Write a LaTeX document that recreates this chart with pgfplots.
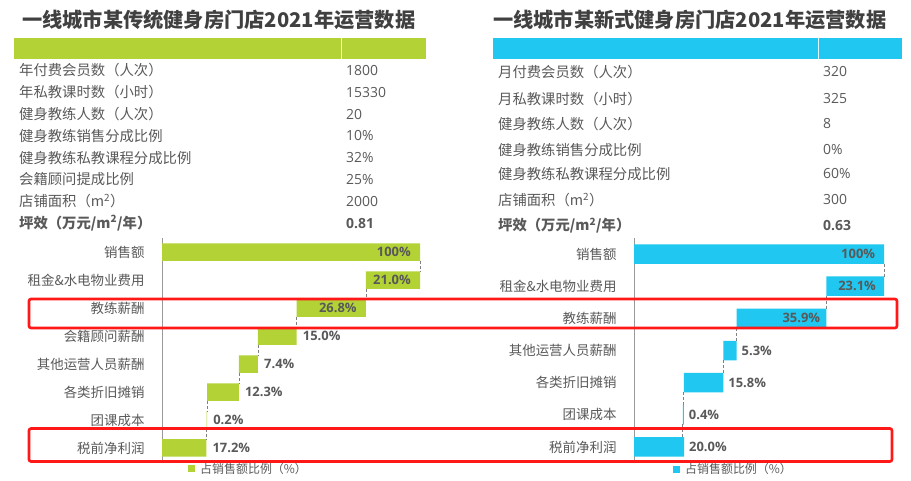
\documentclass[border=0pt]{standalone}
\usepackage{fontspec}
\setmainfont{Noto Sans CJK SC}
\newfontfamily\numfont{Open Sans}
\usepackage{pgfplots}
\pgfplotsset{compat=1.18}
\definecolor{lgreen}{RGB}{178,210,53}
\definecolor{lblue}{RGB}{32,199,240}
\definecolor{txt}{RGB}{89,89,89}
\definecolor{ttl}{RGB}{64,64,64}
\definecolor{rbox}{RGB}{255,24,24}
\newcommand{\fs}[1]{\fontsize{#1}{#1}\selectfont}
\tikzset{lbl/.style={inner sep=0, text=txt, font=\numfont\bfseries\fs{13}}}
\begin{document}
\begin{tikzpicture}
\path[use as bounding box] (0,0) rectangle (911bp,-481bp);
\begin{scope}[x=1bp,y=-1bp]
 \node[anchor=west, inner sep=0, text=ttl, font=\fs{20.3}\bfseries] at (22,20) {一线城市某传统健身房门店2021年运营数据};
 \node[anchor=west, inner sep=0, text=ttl, font=\fs{20.3}\bfseries] at (493,20) {一线城市某新式健身房门店2021年运营数据};
 \fill[lgreen] (14,38) rectangle (426,59);
 \draw[white!85!lgreen, line width=0.8] (341,38) -- (341,59);
 \fill[lblue] (493,38) rectangle (902,59);
 \draw[white!85!lblue, line width=0.8] (818,38) -- (818,59);
 \foreach \y/\t/\v in {70.5/{年付费会员数（人次）}/1800, 92.3/{年私教课时数（小时）}/15330, 114.1/{健身教练人数（人次）}/20, 135.9/{健身教练销售分成比例}/10\%, 157.7/{健身教练私教课程分成比例}/32\%, 179.5/{会籍顾问提成比例}/25\%, 201.3/{店铺面积（m\textsuperscript{2}）}/2000}
 {\node[anchor=west, inner sep=0, text=txt, font=\fs{14.4}] at (19,\y) {\t};
  \node[anchor=west, inner sep=0, text=txt, font=\numfont\fs{14}] at (346,\y) {\v};}
 \node[anchor=west, inner sep=0, text=txt, font=\fs{14.4}\bfseries] at (19,223.1) {坪效（万元/m\textsuperscript{2}/年）};
 \node[anchor=west, inner sep=0, text=txt, font=\numfont\bfseries\fs{14}] at (346,223.1) {0.81};
 \foreach \y/\t/\v in {72/{月付费会员数（人次）}/320, 99/{月私教课时数（小时）}/325, 124/{健身教练人数（人次）}/8, 150/{健身教练销售分成比例}/0\%, 174/{健身教练私教课程分成比例}/60\%, 200/{店铺面积（m\textsuperscript{2}）}/300}
 {\node[anchor=west, inner sep=0, text=txt, font=\fs{14.4}] at (498,\y) {\t};
  \node[anchor=west, inner sep=0, text=txt, font=\numfont\fs{14}] at (823,\y) {\v};}
 \node[anchor=west, inner sep=0, text=txt, font=\fs{14.4}\bfseries] at (498,226) {坪效（万元/m\textsuperscript{2}/年）};
 \node[anchor=west, inner sep=0, text=txt, font=\numfont\bfseries\fs{14}] at (823,226) {0.63};
\end{scope}

% ---------- left waterfall ----------
\begin{axis}[at={(162bp,-238bp)}, anchor=north west, scale only axis, width=258bp, height=224bp,
  xmin=0, xmax=100, ymin=-0.5, ymax=7.5, y dir=reverse,
  xbar stacked, bar width=17.5bp,
  axis x line=none, axis y line=left, y axis line style={-, draw=gray!80, line width=0.6bp},
  ytick={0,...,7}, yticklabels={销售额,租金\&水电物业费用,教练薪酬,会籍顾问薪酬,其他运营人员薪酬,各类折旧摊销,团课成本,税前净利润},
  major tick length=0pt, yticklabel style={font=\fs{13.5}, text=txt, xshift=-14bp},
  clip=false,
  legend style={draw=none, fill=none, inner sep=0pt, at={(axis cs:10.1,7.75)}, anchor=west, font=\fs{12}, text=txt,
    /tikz/every odd column/.append style={column sep=3bp}}]
 \addplot[fill=none, draw=none, forget plot] coordinates {(0,0) (79,1) (52.2,2) (37.2,3) (29.8,4) (17.5,5) (17.3,6) (0,7)};
 \addplot[fill=lgreen, draw=none, legend image code/.code={\fill[lgreen] (0bp,-3.5bp) rectangle (7bp,3.5bp);}] coordinates {(100,0) (21,1) (26.8,2) (15,3) (7.4,4) (12.3,5) (0.2,6) (17.2,7)};
 \addlegendentry{占销售额比例（\%）}
\end{axis}
\begin{axis}[at={(162bp,-238bp)}, anchor=north west, scale only axis, width=258bp, height=224bp,
  xmin=0, xmax=100, ymin=-0.5, ymax=7.5, y dir=reverse, axis lines=none, clip=false, unbounded coords=jump]
 \addplot[densely dashed, gray, line width=0.6bp] coordinates {(100,0.31) (100,0.69) (nan,nan) (79,1.31) (79,1.69) (nan,nan) (52.2,2.31) (52.2,2.69) (nan,nan) (37.2,3.31) (37.2,3.69) (nan,nan) (29.8,4.31) (29.8,4.69) (nan,nan) (17.5,5.31) (17.5,5.69) (nan,nan) (17.3,6.31) (17.3,6.69)};
 \node[lbl, anchor=east] at (axis cs:96.5,0) {100\%};
 \node[lbl, anchor=east] at (axis cs:96.5,1) {21.0\%};
 \node[lbl, anchor=east] at (axis cs:75.5,2) {26.8\%};
 \node[lbl, anchor=west, xshift=6bp] at (axis cs:52.2,3) {15.0\%};
 \node[lbl, anchor=west, xshift=6bp] at (axis cs:37.2,4) {7.4\%};
 \node[lbl, anchor=west, xshift=6bp] at (axis cs:29.8,5) {12.3\%};
 \node[lbl, anchor=west, xshift=6bp] at (axis cs:17.5,6) {0.2\%};
 \node[lbl, anchor=west, xshift=6bp] at (axis cs:17.2,7) {17.2\%};
\end{axis}

% ---------- right waterfall ----------
\begin{axis}[at={(634bp,-238bp)}, anchor=north west, scale only axis, width=250bp, height=225bp,
  xmin=0, xmax=100, ymin=-0.5, ymax=6.5, y dir=reverse,
  xbar stacked, bar width=19.5bp,
  axis x line=none, axis y line=left, y axis line style={-, draw=gray!80, line width=0.6bp},
  ytick={0,...,6}, yticklabels={销售额,租金\&水电物业费用,教练薪酬,其他运营人员薪酬,各类折旧摊销,团课成本,税前净利润},
  major tick length=0pt, yticklabel style={font=\fs{13.5}, text=txt, xshift=-14bp},
  clip=false,
  legend style={draw=none, fill=none, inner sep=0pt, at={(axis cs:15.6,6.69)}, anchor=west, font=\fs{12}, text=txt,
    /tikz/every odd column/.append style={column sep=3bp}}]
 \addplot[fill=none, draw=none, forget plot] coordinates {(0,0) (76.9,1) (41,2) (35.7,3) (19.9,4) (19.5,5) (0,6)};
 \addplot[fill=lblue, draw=none, legend image code/.code={\fill[lblue] (0bp,-3.5bp) rectangle (7bp,3.5bp);}] coordinates {(100,0) (23.1,1) (35.9,2) (5.3,3) (15.8,4) (0.4,5) (20,6)};
 \addlegendentry{占销售额比例（\%）}
\end{axis}
\begin{axis}[at={(634bp,-238bp)}, anchor=north west, scale only axis, width=250bp, height=225bp,
  xmin=0, xmax=100, ymin=-0.5, ymax=6.5, y dir=reverse, axis lines=none, clip=false, unbounded coords=jump]
 \addplot[densely dashed, gray, line width=0.6bp] coordinates {(100,0.3) (100,0.7) (nan,nan) (76.9,1.3) (76.9,1.7) (nan,nan) (41,2.3) (41,2.7) (nan,nan) (35.7,3.3) (35.7,3.7) (nan,nan) (19.9,4.3) (19.9,4.7) (nan,nan) (19.5,5.3) (19.5,5.7)};
 \node[lbl, anchor=east] at (axis cs:96.5,0) {100\%};
 \node[lbl, anchor=east] at (axis cs:96.8,1) {23.1\%};
 \node[lbl, anchor=east] at (axis cs:74.5,2) {35.9\%};
 \node[lbl, anchor=west, xshift=5bp] at (axis cs:41,3) {5.3\%};
 \node[lbl, anchor=west, xshift=5bp] at (axis cs:35.7,4) {15.8\%};
 \node[lbl, anchor=west, xshift=5bp] at (axis cs:19.9,5) {0.4\%};
 \node[lbl, anchor=west, xshift=5bp] at (axis cs:20,6) {20.0\%};
\end{axis}

\begin{scope}[x=1bp,y=-1bp]
 \draw[rbox, line width=2.6bp, rounded corners=2bp] (29,299) rectangle (897,328);
 \draw[rbox, line width=2.6bp, rounded corners=2bp] (29,428.5) rectangle (892,461.5);
\end{scope}
\end{tikzpicture}
\end{document}
